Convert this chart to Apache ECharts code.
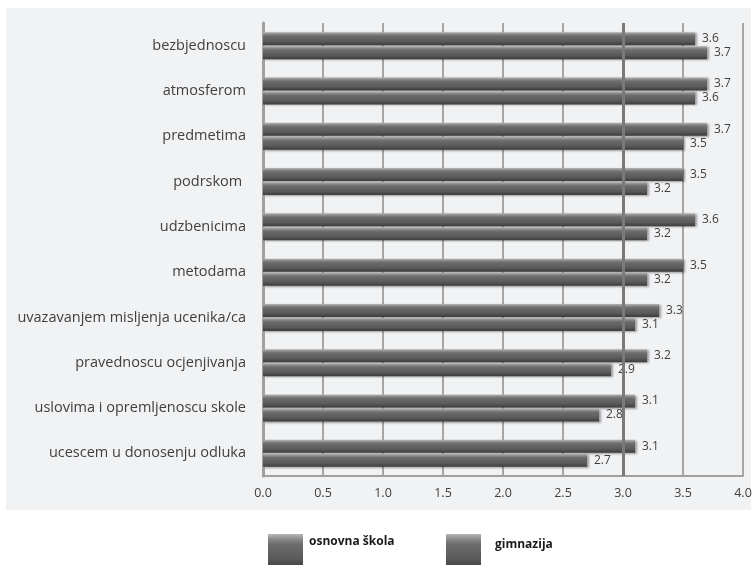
<!DOCTYPE html>
<html>
<head>
<meta charset="utf-8">
<script src="https://cdn.jsdelivr.net/npm/echarts@6/dist/echarts.min.js"></script>
<style>
  html, body { margin: 0; padding: 0; background: #ffffff; }
  #chart { width: 756px; height: 565px; }
</style>
</head>
<body>
<div id="chart"></div>
<script>
// Survey aspects (top to bottom) and mean scores per school type
const categories = [
  'bezbjednoscu',
  'atmosferom',
  'predmetima',
  'podrskom ',
  'udzbenicima',
  'metodama',
  'uvazavanjem misljenja ucenika/ca',
  'pravednoscu ocjenjivanja',
  'uslovima i opremljenoscu skole',
  'ucescem u donosenju odluka'
];
const osnovnaSkola = [3.6, 3.7, 3.7, 3.5, 3.6, 3.5, 3.3, 3.2, 3.1, 3.1];
const gimnazija    = [3.7, 3.6, 3.5, 3.2, 3.2, 3.2, 3.1, 2.9, 2.8, 2.7];
const seriesNames  = ['osnovna škola', 'gimnazija'];
const axisTicks    = [0, 0.5, 1, 1.5, 2, 2.5, 3, 3.5, 4];
const referenceLine = 3.0;

const FONT = '"Open Sans", "DejaVu Sans", sans-serif';
const TEXT = '#404040';

// Bevelled dark-grey bar fill
const barFill = new echarts.graphic.LinearGradient(0, 0, 0, 1, [
  { offset: 0.00, color: '#b8b8b8' },
  { offset: 0.14, color: '#8c8c8c' },
  { offset: 0.30, color: '#6c6c6c' },
  { offset: 0.70, color: '#5a5a5a' },
  { offset: 1.00, color: '#3c3c3c' }
]);

function barSeries(name, values, withRefLine) {
  const s = {
    name: name,
    type: 'bar',
    data: values,
    barWidth: 13,
    barGap: '8%',
    itemStyle: {
      color: barFill,
      shadowColor: 'rgba(0,0,0,0.35)',
      shadowBlur: 2,
      shadowOffsetX: 1.5,
      shadowOffsetY: 1
    },
    label: {
      show: true,
      position: 'right',
      distance: 7,
      color: TEXT,
      fontFamily: FONT,
      fontSize: 12,
      formatter: p => p.value.toFixed(1)
    }
  };
  if (withRefLine) {
    s.markLine = {
      silent: true,
      symbol: ['none', 'none'],
      label: { show: false },
      lineStyle: { color: '#7a7a7a', width: 3, type: 'solid' },
      data: [{ xAxis: referenceLine }],
      z: 10
    };
  }
  return s;
}

// Legend entry with its caption lifted toward the top of the swatch
function legendEntry(name, left, lift, gap) {
  return {
    data: [name],
    icon: 'rect',
    left: left,
    top: 529,
    itemWidth: 35,
    itemHeight: 35,
    selectedMode: false,
    formatter: n => '{t|' + n + '}',
    textStyle: {
      rich: {
        t: {
          color: '#1a1a1a',
          fontFamily: FONT,
          fontSize: 12,
          fontWeight: 'bold',
          padding: [0, 0, lift, gap]
        }
      }
    }
  };
}

const chart = echarts.init(document.getElementById('chart'), null, { renderer: 'canvas' });

chart.setOption({
  backgroundColor: '#ffffff',
  animation: false,
  graphic: [{
    type: 'rect',
    z: -10,
    shape: { x: 6, y: 8, width: 745, height: 502 },
    style: { fill: '#f1f2f4' },
    silent: true
  }],
  grid: { left: 263, right: 13, top: 23, bottom: 89, containLabel: false },
  xAxis: {
    type: 'value',
    min: axisTicks[0],
    max: axisTicks[axisTicks.length - 1],
    interval: 0.5,
    axisLine: { show: true, lineStyle: { color: '#a0a0a0', width: 2 } },
    axisTick: { show: false },
    splitLine: { show: true, lineStyle: { color: '#a6a6a6', width: 2 } },
    axisLabel: {
      color: TEXT,
      fontFamily: FONT,
      fontSize: 12.5,
      margin: 11,
      formatter: v => v.toFixed(1)
    }
  },
  yAxis: {
    type: 'category',
    data: categories,
    inverse: true,
    axisLine: { show: true, lineStyle: { color: '#a0a0a0', width: 3 } },
    axisTick: { show: false },
    axisLabel: {
      color: TEXT,
      fontFamily: FONT,
      fontSize: 14.5,
      margin: 17
    }
  },
  legend: [
    legendEntry(seriesNames[0], 263, 20, 1),
    legendEntry(seriesNames[1], 441, 14, 9)
  ],
  series: [
    barSeries(seriesNames[0], osnovnaSkola, false),
    barSeries(seriesNames[1], gimnazija, true)
  ]
});
</script>
</body>
</html>
